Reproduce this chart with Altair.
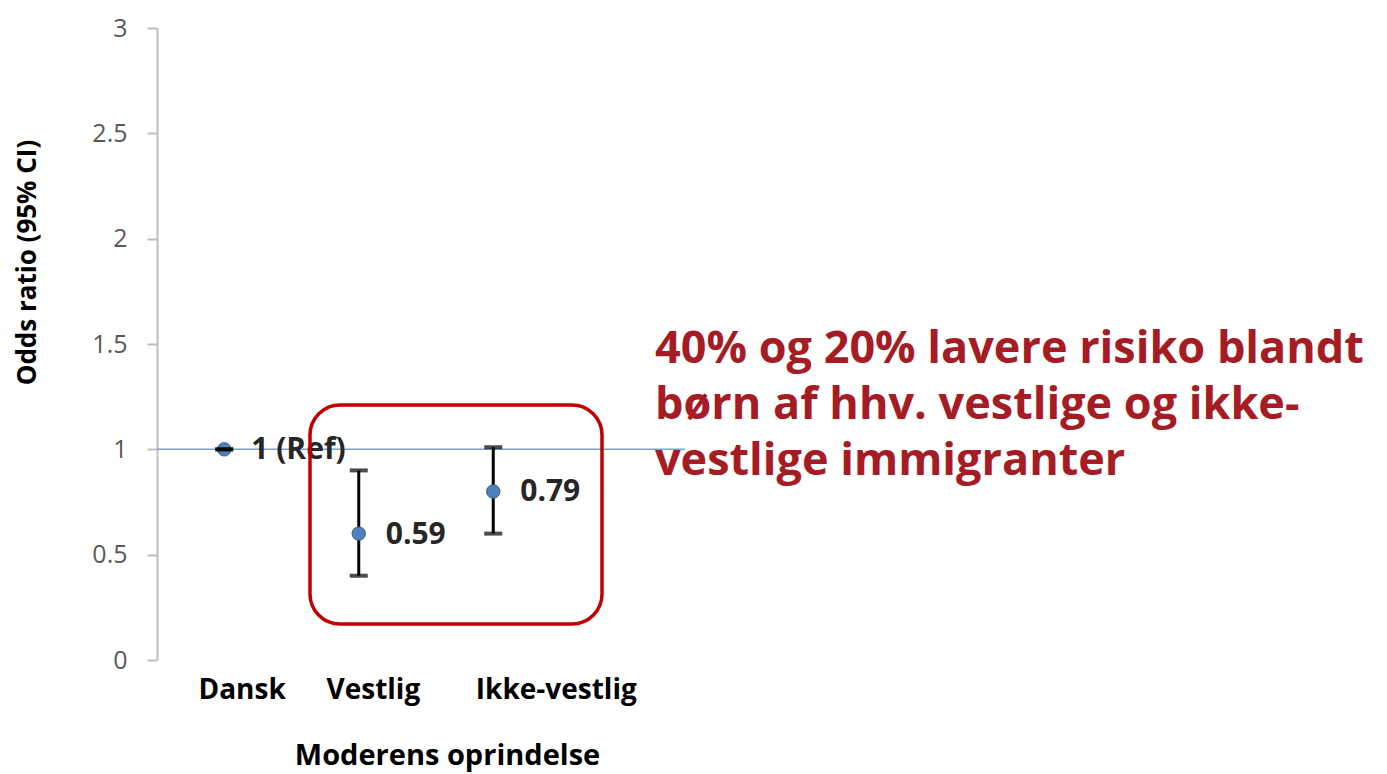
import altair as alt
import pandas as pd

# ---- data ----
categories = ["Dansk", "Vestlig", "Ikke-vestlig"]
positions = [1, 2, 3]
odds = [1.0, 0.60, 0.80]
ci_low = [1.0, 0.40, 0.60]
ci_high = [1.0, 0.90, 1.01]
point_labels = ["1 (Ref)", "0.59", "0.79"]
y_ticks = [0, 0.5, 1, 1.5, 2, 2.5, 3]
annotation_lines = [
    "40% og 20% lavere risiko blandt",
    "børn af hhv. vestlige og ikke-",
    "vestlige immigranter",
]

df = pd.DataFrame({
    "pos": positions,
    "cat": categories,
    "or": odds,
    "lo": ci_low,
    "hi": ci_high,
    "lab": point_labels,
})

TOP = 20
W, H = 1220, 632
STEP = 134.5
FONT = "Open Sans"
PLOT_TOP_PAGE = 8 + TOP  # page y of the plot's top edge

x_scale = alt.Scale(domain=[0.5, 0.5 + W / STEP], nice=False, zero=False)
y_scale = alt.Scale(domain=[0, 3], nice=False)

label_map = "{" + ",".join(f"'{p}':'{c}'" for p, c in zip(positions, categories)) + "}"

x_enc = alt.X(
    "pos:Q", scale=x_scale,
    axis=alt.Axis(
        values=positions,
        labelExpr=f"{label_map}[datum.value]",
        domain=False, ticks=False, grid=False,
        labelFont=FONT, labelFontSize=28, labelFontWeight="bold", labelColor="#000000",
        labelPadding=16, labelAlign="right",
        labelOffset={"condition": {"test": "datum.value == 3", "value": 143}, "value": 61},
        title="Moderens oprindelse", titleFont=FONT, titleFontSize=29, titleFontWeight="bold",
        titleColor="#000000", titleX=290, titleY=104, titleBaseline="alphabetic",
        titleAnchor="start", titleAlign="center",
    ),
)
y_enc = alt.Y(
    "or:Q", scale=y_scale,
    axis=alt.Axis(
        values=y_ticks, grid=False, format="~g",
        domainColor="#c0c0c0", domainWidth=2, tickColor="#c0c0c0", tickWidth=2, tickSize=10,
        labelFont=FONT, labelFontSize=25, labelColor="#595959", labelPadding=20,
        title="Odds ratio (95% CI)", titleFont=FONT, titleFontSize=26, titleFontWeight="bold",
        titleColor="#000000", titleX=-117, titleY=262 - PLOT_TOP_PAGE,
    ),
)

base = alt.Chart(df)

ref_line = alt.Chart(pd.DataFrame({"v": [1]})).mark_rule(color="#7fa3c8", strokeWidth=1.5).encode(
    y=alt.Y("v:Q", scale=y_scale), x=alt.value(0), x2=alt.value(528)
)

bars = base.mark_rule(color="#000000", strokeWidth=3).encode(
    x=x_enc, y=alt.Y("lo:Q", scale=y_scale), y2="hi:Q"
)

points = base.mark_point(filled=True, size=180, color="#4f81bd", stroke="#385d8a",
                         strokeWidth=1, opacity=1).encode(x=x_enc, y=y_enc)

cap_lo = base.mark_tick(orient="horizontal", color="#000000", size=18, thickness=4).encode(
    x=alt.X("pos:Q", scale=x_scale), y=alt.Y("lo:Q", scale=y_scale)
)
cap_hi = base.mark_tick(orient="horizontal", color="#000000", size=18, thickness=4).encode(
    x=alt.X("pos:Q", scale=x_scale), y=alt.Y("hi:Q", scale=y_scale)
)

labels = base.mark_text(align="left", baseline="middle", dx=27, dy=1, font=FONT,
                        fontSize=30, fontWeight="bold", color="#262626").encode(
    x=alt.X("pos:Q", scale=x_scale), y=alt.Y("or:Q", scale=y_scale), text="lab:N"
)

box = alt.Chart(pd.DataFrame({"v": [1]})).mark_rect(
    filled=False, stroke="#c00000", strokeWidth=3.5, cornerRadius=30, fill=None
).encode(x=alt.value(153), x2=alt.value(445),
         y=alt.value(405 - PLOT_TOP_PAGE), y2=alt.value(624 - PLOT_TOP_PAGE))

annot = alt.Chart(pd.DataFrame({"v": [1]})).mark_text(
    text=annotation_lines, align="left", baseline="alphabetic", font=FONT,
    fontSize=45, fontWeight="bold", color="#a51c24", lineHeight=56
).encode(x=alt.value(498), y=alt.value(363 - PLOT_TOP_PAGE))

chart = alt.layer(ref_line, bars, points, cap_lo, cap_hi, labels, box, annot).properties(
    width=W, height=H,
    autosize=alt.AutoSizeParams(type="none"),
    padding={"left": 149, "top": TOP, "right": 2, "bottom": 112},
).configure_view(stroke=None)

chart.save("out.html", embed_options={"renderer": "svg", "actions": False})
